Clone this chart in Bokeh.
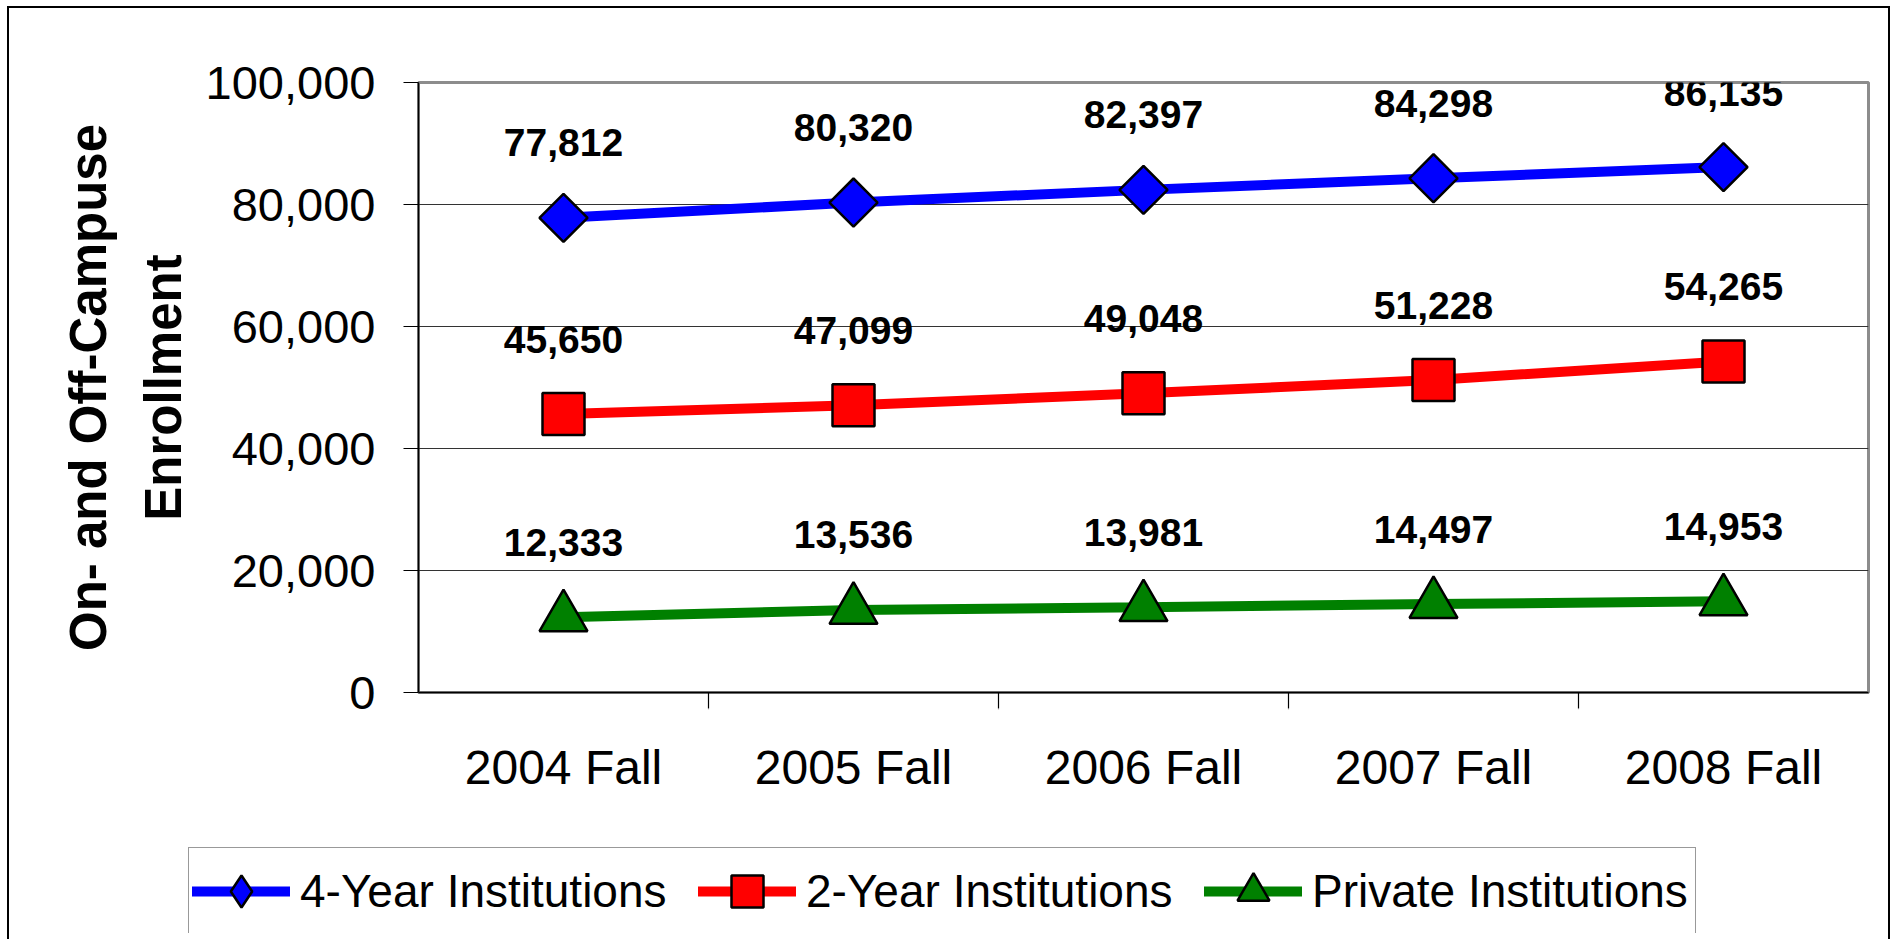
import math
from bokeh.plotting import figure
from bokeh.layouts import column
from bokeh.models import (ColumnDataSource, FactorRange, Range1d, CategoricalAxis, LinearAxis,
                          FixedTicker, NumeralTickFormatter, LabelSet, Legend, LegendItem)
from bokeh.core.properties import value
from bokeh.embed import file_html
from bokeh.resources import INLINE

# ---------------- data ----------------
categories = ["2004 Fall", "2005 Fall", "2006 Fall", "2007 Fall", "2008 Fall"]
four_year = [77812, 80320, 82397, 84298, 86135]
two_year = [45650, 47099, 49048, 51228, 54265]
private = [12333, 13536, 13981, 14497, 14953]
series_names = ["4-Year Institutions", "2-Year Institutions", "Private Institutions"]
y_ticks = [0, 20000, 40000, 60000, 80000, 100000]
y_title = ["On- and Off-Campuse", "Enrollment"]

# ---------------- styles ----------------
FONT = "Liberation Sans"
W, H_MAIN, H_LEG = 1879, 827, 104
FRAME_L, FRAME_R, FRAME_T, FRAME_B = 409, 1859, 74, 684
colors = ["#0000ff", "#ff0000", "#008000"]
markers = ["square", "square", "triangle"]          # first one is turned 45 deg -> diamond
legend_markers = ["diamond", "square", "triangle"]
angles = [math.pi / 4, 0, 0]
sizes = [34, 42, 48]

p = figure(width=W, height=H_MAIN,
           x_range=FactorRange(*categories), y_range=Range1d(0, 100000),
           x_axis_type=None, output_backend="svg", toolbar_location=None,
           min_border_left=FRAME_L, min_border_right=W - FRAME_R,
           min_border_top=FRAME_T, min_border_bottom=H_MAIN - FRAME_B,
           frame_align=False)
p.background_fill_color = "white"
p.border_fill_color = "white"
p.outline_line_color = "#8c8c8c"
p.outline_line_width = 3

TITLE_STYLE = dict(axis_label_text_font=FONT, axis_label_text_font_size="51px",
                   axis_label_text_font_style="bold", axis_label_text_color="black")

# y axis
yax = p.yaxis[0]
yax.ticker = FixedTicker(ticks=y_ticks)
yax.formatter = NumeralTickFormatter(format="0,0")
yax.major_label_text_font = FONT
yax.major_label_text_font_size = "47px"
yax.major_label_text_color = "black"
yax.major_label_standoff = 28
yax.major_tick_out = 15
yax.major_tick_in = 0
yax.major_tick_line_color = "black"
yax.major_tick_line_width = 1.2
yax.minor_tick_line_color = None
yax.axis_line_color = "black"
yax.axis_line_width = 1.5
yax.axis_label = y_title[1]
yax.axis_label_standoff = 11
for k, v in TITLE_STYLE.items():
    setattr(yax, k, v)

# outer line of the two-line y title
title_axis = LinearAxis(ticker=FixedTicker(ticks=[]), axis_line_color=None,
                        major_tick_line_color=None, minor_tick_line_color=None,
                        major_tick_out=0, major_tick_in=0, major_label_standoff=0,
                        axis_label=y_title[0], axis_label_standoff=15, **TITLE_STYLE)
p.add_layout(title_axis, "left")

p.ygrid.ticker = FixedTicker(ticks=y_ticks)
p.ygrid.grid_line_color = "#333333"
p.ygrid.grid_line_width = 1.2
p.xgrid.grid_line_color = None

# x axis: tick marks at category boundaries + category labels
boundaries = [str(i) for i in range(len(categories) + 1)]
p.extra_x_ranges = {"bounds": FactorRange(*boundaries, range_padding=-0.5,
                                          range_padding_units="absolute")}
tick_axis = CategoricalAxis(x_range_name="bounds",
                            major_label_overrides={b: "" for b in boundaries},
                            major_label_text_font_size="1px", major_label_standoff=0,
                            major_tick_out=16, major_tick_in=0, major_tick_line_color="black",
                            major_tick_line_width=1.2,
                            axis_line_color="black", axis_line_width=1.5)
p.add_layout(tick_axis, "below")
cat_axis = CategoricalAxis(major_tick_line_color=None, axis_line_color=None,
                           major_tick_out=0, major_tick_in=0,
                           major_label_text_font=FONT, major_label_text_font_size="48px",
                           major_label_text_color="black", major_label_standoff=28)
p.add_layout(cat_axis, "below")

# ---------------- legend strip (separate canvas below the plot) ----------------
LEG_L, LEG_R, LEG_T, LEG_B = 179, 1711, 12, 98
lf = figure(width=W, height=H_LEG, x_range=FactorRange(*categories), y_range=Range1d(-2, -1),
            x_axis_type=None, y_axis_type=None,
            output_backend="svg", toolbar_location=None,
            min_border_left=LEG_L, min_border_right=W - LEG_R,
            min_border_top=LEG_T, min_border_bottom=H_LEG - LEG_B,
            frame_align=False)
lf.outline_line_color = None
lf.background_fill_color = "white"
lf.border_fill_color = "white"
lf.xgrid.grid_line_color = None
lf.ygrid.grid_line_color = None

# series
items = []
for name, vals, col, mk, lmk, ang, sz in zip(series_names, [four_year, two_year, private],
                                             colors, markers, legend_markers, angles, sizes):
    src = ColumnDataSource(dict(x=categories, y=vals, label=[f"{v:,}" for v in vals]))
    p.line("x", "y", source=src, line_color=col, line_width=10)
    p.scatter("x", "y", source=src, marker=mk, size=sz, angle=ang,
              fill_color=col, line_color="black", line_width=2.5)
    p.add_layout(LabelSet(x="x", y="y", text="label", source=src, y_offset=75,
                          text_align="center", text_baseline="middle",
                          text_font=value(FONT), text_font_size="39px",
                          text_font_style="bold", text_color="black"))
    # legend proxies (their data lie outside the strip's range, so only the key shows)
    lr = lf.line("x", "y", source=src, line_color=col, line_width=10, line_cap="round")
    sr = lf.scatter("x", "y", source=src, marker=lmk, size=sz,
                    fill_color=col, line_color="black", line_width=2.5)
    items.append(LegendItem(label=name, renderers=[lr, sr]))

legend = Legend(items=items, orientation="horizontal", location="top_left",
                label_text_font=FONT, label_text_font_size="46px", label_text_color="black",
                glyph_width=98, glyph_height=80, label_height=80, label_width=380,
                label_standoff=10, spacing=18, padding=3, margin=0,
                border_line_color="#333333", border_line_width=1.5,
                background_fill_color="white", background_fill_alpha=1)
lf.add_layout(legend)

layout = column(p, lf, spacing=0,
                styles={"margin-left": "7px", "margin-top": "6px",
                        "border-left": "2px solid black", "border-top": "2px solid black",
                        "border-right": "2px solid black"})

open("out.html", "w").write(file_html(layout, INLINE))
